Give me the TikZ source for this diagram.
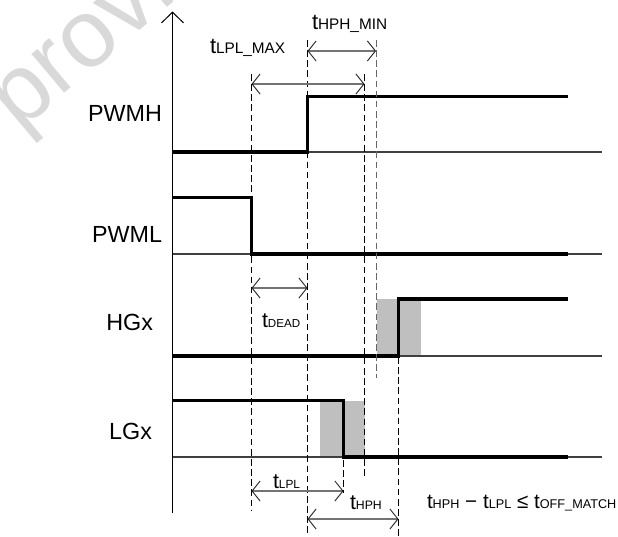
\documentclass[tikz,border=0pt]{standalone}
\usepackage{fontspec}
\setmainfont{Liberation Sans}
\usetikzlibrary{arrows.meta,positioning}
% t with a small capital subscript on the same baseline
\newcommand{\tlab}[3]{{\fontsize{#1}{#1}\selectfont t}{\fontsize{#2}{#2}\selectfont #3}}

\begin{document}
\begin{tikzpicture}[x=0.75pt,y=-0.75pt]
	\tikzstyle{every node} = [inner sep=0, outer sep=0]
	\tikzstyle{sig} = [line width=2.3pt, line join=miter, black]
	\tikzstyle{base} = [line width=0.8pt, black!75]
	\tikzstyle{guide} = [line width=0.75pt, dash pattern=on 5pt off 2.6pt]
	\tikzstyle{barb} = [{Straight Barb[length=6pt,width=15pt,line width=0.7pt,color=black!85]}-{Straight Barb[length=6pt,width=15pt,line width=0.7pt,color=black!85]}]
	\tikzstyle{dim} = [line width=1.1pt, black!55, barb]
	\tikzstyle{win} = [fill=black!25, draw=none]
	\tikzstyle{lbl} = [font=\fontsize{17.5}{20}\selectfont, anchor=east]
	\tikzstyle{tl} = [anchor=base west]
\useasboundingbox (0,0) rectangle (618,536);
\node[text=black!15, rotate=40, anchor=base west, font=\fontsize{72}{72}\selectfont] (wm) at (19,132) {provi};

% windows
\fill[win] (376.5,299) rectangle (420.5,356);
\fill[win] (319.5,400.5) rectangle (364.5,457);

% axis and base lines
\coordinate (o) at (172.5,513);
\coordinate (otop) at (172.5,11.5);
\draw[line width=0.75pt, -{Straight Barb[length=8pt,width=16.5pt]}] (o) -- (otop);
\foreach \y in {152,254,356,457}
	\draw[base] (172.5,\y) -- (602,\y);

% signals
\draw[sig] (172.5,152) -- (307.5,152) -- (307.5,96.5) -- (568,96.5);
\draw[sig] (172.5,197.5) -- (251.5,197.5) -- (251.5,254) -- (568,254);
\draw[sig] (172.5,356) -- (398.5,356) -- (398.5,299) -- (568,299);
\draw[sig] (172.5,400.5) -- (343.5,400.5) -- (343.5,457) -- (568,457);

\node[lbl] (pwmh) at (162,113.5) {PWMH};
\node[lbl] (pwml) at (162,234.5) {PWML};
\node[lbl] (hgx) at (153,322.5) {HGx};
\node[lbl] (lgx) at (152,431.5) {LGx};

% dashed guides
\coordinate (a1) at (251.5,74);  \coordinate (a2) at (251.5,511);
\coordinate (b1) at (307.5,40);  \coordinate (b2) at (307.5,536);
\coordinate (c1) at (364.5,74);  \coordinate (c2) at (364.5,479);
\coordinate (d1) at (376,40);    \coordinate (d2) at (376,378);
\coordinate (e1) at (398.5,357); \coordinate (e2) at (398.5,536);
\coordinate (f1) at (343.5,460); \coordinate (f2) at (343.5,493);
\draw[guide] (a1) -- (a2);
\draw[guide] (b1) -- (b2);
\draw[guide] (c1) -- (c2);
\draw[guide, black!60] (d1) -- (d2);
\draw[guide] (e1) -- (e2);
\draw[guide] (f1) -- (f2);

% time spans
\coordinate (hpmL) at (307.5,51);  \coordinate (hpmR) at (376,51);
\coordinate (lpmL) at (251.5,84);  \coordinate (lpmR) at (364.5,84);
\coordinate (dL) at (251.5,288);   \coordinate (dR) at (307.5,288);
\coordinate (lpL) at (251.5,491);  \coordinate (lpR) at (343.5,491);
\coordinate (hpL) at (307.5,519);  \coordinate (hpR) at (398.5,519);
\draw[dim] (hpmL) -- (hpmR);
\draw[dim] (lpmL) -- (lpmR);
\draw[dim] (dL) -- (dR);
\draw[dim] (lpL) -- (lpR);
\draw[dim] (hpL) -- (hpR);

\node[tl] (thpmin) at (312,29.5) {\tlab{16.5}{11.5}{HPH\_MIN}};
\node[tl] (tlpmax) at (210,53) {\tlab{16.5}{11.5}{LPL\_MAX}};
\node[tl] (tdead) at (262,327) {\tlab{16}{8.7}{DEAD}};
\node[tl] (tlpl) at (273,488) {\tlab{16}{8.9}{LPL}};
\node[tl] (thph) at (350,509) {\tlab{16}{9.2}{HPH}};
\node[tl, font=\fontsize{15.5}{17}\selectfont] (rule) at (427,508)
	{\tlab{15.5}{9.5}{HPH} − \tlab{15.5}{9.5}{LPL} ≤ \tlab{15.5}{9.5}{OFF\_MATCH}};
\end{tikzpicture}
\end{document}
